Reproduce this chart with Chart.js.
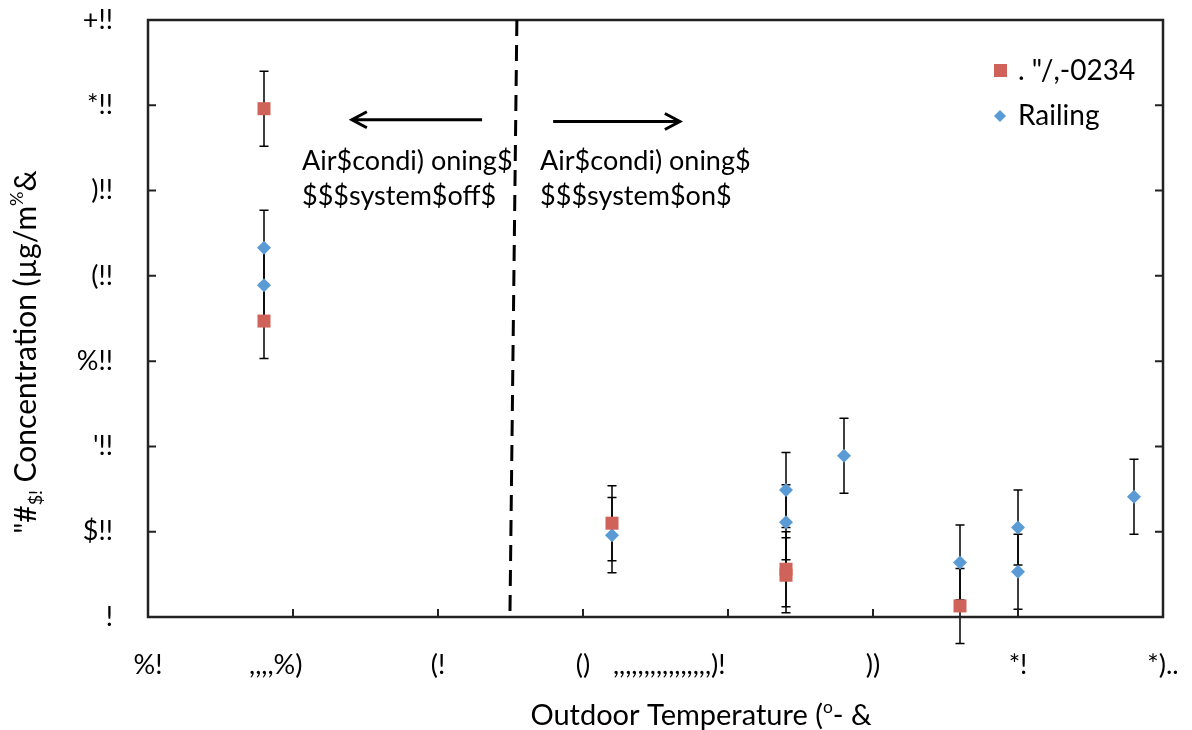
<!DOCTYPE html>
<html lang="en">
<head>
<meta charset="UTF-8" />
<title>Concentration vs outdoor temperature</title>
<script src="https://cdn.jsdelivr.net/npm/chart.js"></script>
<style>
  html, body { margin: 0; padding: 0; background: #fff; }
  #wrap { width: 1192px; height: 730px; }
</style>
</head>
<body>
<div id="wrap"><canvas id="chart" width="1192" height="730"></canvas></div>
<script>
// ── values ──────────────────────────────────────────────
const xTicks = [30, 35, 40, 45, 50, 55, 60, 65];
const xTickLabels = ['%!', ',,,,%)     ', '(!', '()', ',,,,,,,,,,,,,,,,)!                 ', '))', '*!', '*)..'];
const yTicks = [0, 100, 200, 300, 400, 500, 600, 700];
const yTickLabels = ['!', '$!!', "'!!", '%!!', '(!!', ')!!', '*!!', '+!!'];

const redName = '. "/,-0234';
const redTemp = [34, 34, 46, 52, 52, 58];
const redConc = [596, 347, 110, 56, 49, 13];
const redErr  = [44, 44, 44, 44, 44, 44];

const railName = 'Railing';
const railTemp = [34, 34, 46, 52, 52, 54, 58, 60, 60, 64];
const railConc = [433, 389, 96, 149, 111, 189, 64, 105, 53, 141];
const railErr  = [44, 44, 44, 44, 44, 44, 44, 44, 44, 44];

const FONT = 'Lato, "Open Sans", sans-serif';
const RED = '#CF6259';
const BLUE = '#5B9BD5';

const toPoints = (xs, ys) => xs.map((x, i) => ({ x, y: ys[i] }));

// error bars, drawn under the markers
const errorBars = {
  id: 'errorBars',
  beforeDatasetsDraw(chart) {
    const { ctx, scales: { x, y } } = chart;
    ctx.save();
    ctx.strokeStyle = '#000';
    ctx.lineWidth = 1.5;
    chart.data.datasets.forEach(ds => {
      ds.data.forEach((p, i) => {
        const px = x.getPixelForValue(p.x);
        const top = y.getPixelForValue(p.y + ds.err[i]);
        const bot = y.getPixelForValue(p.y - ds.err[i]);
        ctx.beginPath();
        ctx.moveTo(px, top); ctx.lineTo(px, bot);
        ctx.moveTo(px - 4.5, top); ctx.lineTo(px + 4.5, top);
        ctx.moveTo(px - 4.5, bot); ctx.lineTo(px + 4.5, bot);
        ctx.stroke();
      });
    });
    ctx.restore();
  }
};

// frame with inward tick marks
const frame = {
  id: 'frame',
  afterDatasetsDraw(chart) {
    const { ctx, chartArea: a, scales: { x, y } } = chart;
    ctx.save();
    ctx.strokeStyle = '#222';
    ctx.lineWidth = 2;
    ctx.beginPath();
    xTicks.forEach(v => {
      const px = x.getPixelForValue(v);
      ctx.moveTo(px, a.bottom); ctx.lineTo(px, a.bottom - 8);
    });
    yTicks.forEach(v => {
      const py = y.getPixelForValue(v);
      ctx.moveTo(a.left, py); ctx.lineTo(a.left + 8, py);
      ctx.moveTo(a.right, py); ctx.lineTo(a.right - 8, py);
    });
    ctx.stroke();
    ctx.lineWidth = 2.5;
    ctx.strokeRect(a.left, a.top, a.right - a.left, a.bottom - a.top);
    ctx.restore();
  }
};

// rich text (sub / superscripts), centred on cx
function drawRich(ctx, parts, size, cx, cy) {
  const w = parts.map(p => {
    ctx.font = `${p.s ? size * 0.6 : size}px ${FONT}`;
    return ctx.measureText(p.t).width;
  });
  let x = cx - w.reduce((a, b) => a + b, 0) / 2;
  ctx.textBaseline = 'middle';
  ctx.textAlign = 'left';
  parts.forEach((p, i) => {
    ctx.font = `${p.s ? size * 0.6 : size}px ${FONT}`;
    ctx.fillText(p.t, x, cy + (p.s || 0));
    x += w[i];
  });
}

// titles, legend, divider and arrow notes
const notes = {
  id: 'notes',
  afterDraw(chart) {
    const { ctx, scales: { x, y } } = chart;
    ctx.save();
    ctx.fillStyle = '#000';

    // x title
    drawRich(ctx, [{ t: 'Outdoor Temperature (' }, { t: 'o', s: -9 }, { t: '- &' }], 29, 701, 716);

    // y title, rotated
    ctx.save();
    ctx.translate(26, 352);
    ctx.rotate(-Math.PI / 2);
    drawRich(ctx, [{ t: '"#' }, { t: '$!', s: 10 }, { t: ' Concentration (µg/m' }, { t: '%', s: -9 }, { t: '&' }], 30, 0, 0);
    ctx.restore();

    // dashed divider
    ctx.strokeStyle = '#000';
    ctx.lineWidth = 3;
    ctx.setLineDash([16, 9]);
    ctx.beginPath();
    ctx.moveTo(x.getPixelForValue(42.72), y.getPixelForValue(700));
    ctx.lineTo(x.getPixelForValue(42.48), y.getPixelForValue(0));
    ctx.stroke();
    ctx.setLineDash([]);

    // arrows
    const arrow = (x0, x1, yv) => {
      const a = x.getPixelForValue(x0), b = x.getPixelForValue(x1), py = y.getPixelForValue(yv);
      const d = Math.sign(b - a);
      ctx.beginPath();
      ctx.moveTo(a, py); ctx.lineTo(b, py);
      ctx.moveTo(b - d * 15, py - 8); ctx.lineTo(b, py); ctx.lineTo(b - d * 15, py + 8);
      ctx.stroke();
    };
    ctx.lineWidth = 3;
    arrow(41.52, 37.03, 583);
    arrow(43.97, 48.34, 581);

    // notes
    ctx.font = `27px ${FONT}`;
    ctx.textAlign = 'left';
    ctx.textBaseline = 'middle';
    const lx = x.getPixelForValue(35.31), rx = x.getPixelForValue(43.52);
    const l1 = y.getPixelForValue(534), l2 = y.getPixelForValue(493);
    ctx.fillText('Air$condi) oning$', lx, l1);
    ctx.fillText('$$$system$off$', lx, l2);
    ctx.fillText('Air$condi) oning$', rx, l1);
    ctx.fillText('$$$system$on$', rx, l2);

    // legend
    ctx.font = `28px ${FONT}`;
    ctx.fillStyle = RED;
    ctx.fillRect(994, 64, 13, 13);
    ctx.fillStyle = BLUE;
    ctx.beginPath();
    ctx.moveTo(1000, 110); ctx.lineTo(1006, 116); ctx.lineTo(1000, 122); ctx.lineTo(994, 116);
    ctx.closePath(); ctx.fill();
    ctx.fillStyle = '#000';
    ctx.fillText(redName, 1018, 71);
    ctx.fillText(railName, 1018, 116);

    ctx.restore();
  }
};

new Chart(document.getElementById('chart'), {
  type: 'scatter',
  data: {
    datasets: [
      {
        label: redName,
        data: toPoints(redTemp, redConc),
        err: redErr,
        pointStyle: 'rect',
        pointRadius: 9.2,
        pointHoverRadius: 9.2,
        backgroundColor: RED,
        borderColor: RED,
        borderWidth: 0
      },
      {
        label: railName,
        data: toPoints(railTemp, railConc),
        err: railErr,
        pointStyle: 'rectRot',
        pointRadius: 7,
        pointHoverRadius: 7,
        backgroundColor: BLUE,
        borderColor: BLUE,
        borderWidth: 0
      }
    ]
  },
  options: {
    responsive: false,
    animation: false,
    layout: { padding: { left: 0, top: 20, right: 29, bottom: 0 } },
    plugins: { legend: { display: false }, tooltip: { enabled: false } },
    scales: {
      x: {
        type: 'linear', min: 30, max: 65,
        grid: { display: false, drawTicks: false },
        border: { display: false },
        afterFit: s => { s.height = 113; s.paddingLeft = 0; s.paddingRight = 0; },
        afterBuildTicks: s => { s.ticks = xTicks.map(v => ({ value: v })); },
        ticks: {
          autoSkip: false, maxRotation: 0, padding: 32, color: '#000',
          font: { family: FONT, size: 27 },
          callback: v => xTickLabels[xTicks.indexOf(v)]
        }
      },
      y: {
        type: 'linear', min: 0, max: 700,
        grid: { display: false, drawTicks: false },
        border: { display: false },
        afterFit: s => { s.width = 148; s.paddingTop = 0; s.paddingBottom = 0; },
        afterBuildTicks: s => { s.ticks = yTicks.map(v => ({ value: v })); },
        ticks: {
          padding: 35, color: '#000',
          font: { family: FONT, size: 27 },
          callback: v => yTickLabels[yTicks.indexOf(v)]
        }
      }
    }
  },
  plugins: [errorBars, frame, notes]
});
</script>
</body>
</html>
